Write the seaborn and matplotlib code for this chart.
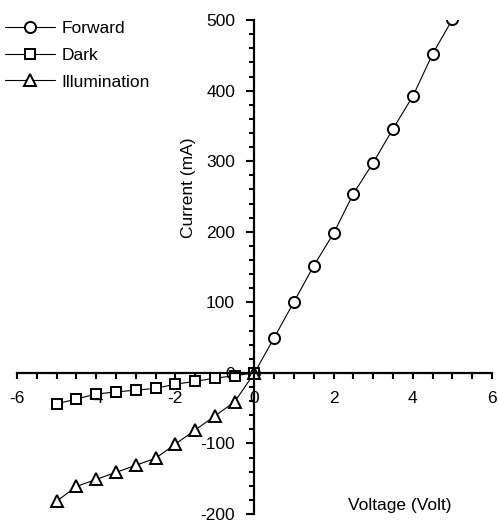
import numpy as np
import pandas as pd
import matplotlib
matplotlib.use("Agg")
import matplotlib.pyplot as plt
from matplotlib.ticker import MultipleLocator
import seaborn as sns

# ---- data ----
forward_v = [0, 0.5, 1, 1.5, 2, 2.5, 3, 3.5, 4, 4.5, 5]
forward_i = [0, 50, 101, 152, 198, 254, 298, 346, 392, 452, 501]

dark_v = [-5, -4.5, -4, -3.5, -3, -2.5, -2, -1.5, -1, -0.5, 0]
dark_i = [-44, -37, -30, -27, -24.5, -22, -16, -12, -7.5, -4, 0]

illum_v = [-5, -4.5, -4, -3.5, -3, -2.5, -2, -1.5, -1, -0.5, 0]
illum_i = [-182, -161, -151, -141, -131, -121, -101, -81, -61, -41, 0]

x_ticks = [-6, -4, -2, 0, 2, 4, 6]
y_ticks = [-200, -100, 0, 100, 200, 300, 400, 500]

sns.set_style("white")
plt.rcParams["font.family"] = ["Liberation Sans", "DejaVu Sans"]
FS = 12.5

fig = plt.figure(figsize=(4.98, 5.21), dpi=100)
ax = fig.add_axes([0.0341, 0.01344, 0.9538, 0.948])

common = dict(color="black", linewidth=0.8, markerfacecolor="white",
              markeredgecolor="black", markeredgewidth=1.4, ax=ax, sort=False)
sns.lineplot(x=forward_v, y=forward_i, marker="o", markersize=8, label="Forward", **common)
sns.lineplot(x=dark_v, y=dark_i, marker="s", markersize=7.5, label="Dark", **common)
sns.lineplot(x=illum_v, y=illum_i, marker="^", markersize=8.5, label="Illumination", **common)

ax.set_xlim(-6, 6)
ax.set_ylim(-200, 500)

for s in ["top", "right"]:
    ax.spines[s].set_visible(False)
ax.spines["left"].set_position(("data", 0))
ax.spines["bottom"].set_position(("data", 0))
for s in ["left", "bottom"]:
    ax.spines[s].set_linewidth(1.6)
    ax.spines[s].set_color("black")

ax.set_xticks(x_ticks)
ax.set_xticklabels([str(t) for t in x_ticks])
ax.set_yticks(y_ticks)
ax.set_yticklabels([str(t) for t in y_ticks])
ax.xaxis.set_minor_locator(MultipleLocator(0.5))
ax.yaxis.set_minor_locator(MultipleLocator(20))

ax.tick_params(axis="x", which="both", direction="out", bottom=True, length=4,
               width=1.5, color="black", labelsize=FS, pad=9, labelcolor="black")
ax.tick_params(axis="y", which="major", direction="out", left=True, length=6,
               width=1.5, color="black", labelsize=FS, pad=8, labelcolor="black")
ax.tick_params(axis="y", which="minor", direction="out", left=True, length=3.5,
               width=1.5, color="black")
ax.grid(False)

ax.set_ylabel("Current (mA)", fontsize=FS, color="black", va="center")
ax.yaxis.set_label_coords(0.362, 0.66)
ax.set_xlabel("Voltage (Volt)", fontsize=FS, color="black", va="center")
ax.xaxis.set_label_coords(0.806, 0.018)

leg = ax.legend(loc="upper left", bbox_to_anchor=(0.01, 0.96),
                bbox_transform=fig.transFigure, frameon=False, fontsize=FS,
                handlelength=2.9, handletextpad=0.35, borderpad=0,
                borderaxespad=0, labelspacing=0.67, numpoints=1)
for t in leg.get_texts():
    t.set_color("black")

fig.savefig("out.png", dpi=100)
